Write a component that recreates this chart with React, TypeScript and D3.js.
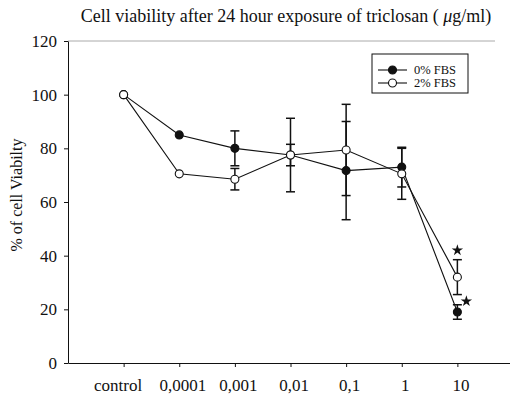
import { useRef, useEffect } from 'react';
import * as d3 from 'd3';

const categories = ['control', '0,0001', '0,001', '0,01', '0,1', '1', '10'];
const fbs0 = [100, 85, 80, 77.5, 71.7, 73, 19];
const fbs0Err = [0, 0, 6.5, 4, 18.3, 7.4, 2.7];
const fbs2 = [100, 70.5, 68.5, 77.5, 79.4, 70.5, 32];
const fbs2Err = [0, 0, 4, 13.7, 17, 9.5, 6.5];
const yTicks = [0, 20, 40, 60, 80, 100, 120];
// significance stars: category, value, horizontal nudge
const stars = [
  { cat: '10', value: 42, dx: 0 },
  { cat: '10', value: 23, dx: 9 },
];

const width = 510;
const height = 394;
const font = '"Liberation Serif", "Times New Roman", serif';

export default function App() {
  const svgRef = useRef<SVGSVGElement>(null);

  useEffect(() => {
    const svg = d3.select(svgRef.current);
    svg.selectAll('*').remove();

    const margin = { top: 41, left: 68, bottom: 31 };

    const x = d3.scalePoint<string>()
      .domain(categories)
      .range([margin.left, 513])
      .padding(1);

    const y = d3.scaleLinear()
      .domain([0, 120])
      .range([height - margin.bottom, margin.top]);

    // title
    const title = svg.append('text')
      .attr('x', 286)
      .attr('y', 22)
      .attr('text-anchor', 'middle')
      .attr('font-family', font)
      .attr('font-size', 18)
      .attr('fill', '#111');
    title.append('tspan').text('Cell viability after 24 hour exposure of triclosan ( ');
    title.append('tspan').attr('font-style', 'italic').text('μ');
    title.append('tspan').text('g/ml)');

    // faint top frame
    svg.append('line')
      .attr('x1', margin.left).attr('x2', 495)
      .attr('y1', y(120)).attr('y2', y(120))
      .attr('stroke', '#aaa')
      .attr('stroke-width', 1);

    // y axis
    const yAxis = svg.append('g')
      .attr('transform', `translate(${margin.left},0)`)
      .call(d3.axisLeft(y).tickValues(yTicks).tickSize(4).tickSizeOuter(0).tickPadding(7));
    yAxis.selectAll('text')
      .attr('font-family', font)
      .attr('font-size', 17)
      .attr('fill', '#111');
    yAxis.selectAll('line, path').attr('stroke', '#111');

    // x axis
    const xAxis = svg.append('g')
      .attr('transform', `translate(0,${y(0)})`)
      .call(d3.axisBottom(x).tickSize(4).tickSizeOuter(0).tickPadding(12));
    xAxis.selectAll('text')
      .attr('font-family', font)
      .attr('font-size', 17)
      .attr('fill', '#111')
      .attr('dx', (d: any) => (d === 'control' ? -6 : 3));
    xAxis.selectAll('line, path').attr('stroke', '#111');

    // y label
    svg.append('text')
      .attr('transform', `translate(22,${195}) rotate(-90)`)
      .attr('text-anchor', 'middle')
      .attr('font-family', font)
      .attr('font-size', 16)
      .attr('fill', '#111')
      .text('% of cell Viabilty');

    const series = [
      { values: fbs0, errs: fbs0Err, fill: '#111' },
      { values: fbs2, errs: fbs2Err, fill: '#fff' },
    ];

    const line = d3.line<number>()
      .x((_, i) => x(categories[i])!)
      .y(d => y(d));

    series.forEach(s => {
      svg.append('path')
        .datum(s.values)
        .attr('d', line)
        .attr('fill', 'none')
        .attr('stroke', '#111')
        .attr('stroke-width', 1.1);
    });

    // error bars
    const cap = 4.5;
    series.forEach(s => {
      const g = svg.append('g').attr('stroke', '#111').attr('stroke-width', 1.5);
      s.values.forEach((v, i) => {
        const e = s.errs[i];
        if (!e) return;
        const cx = x(categories[i])!;
        g.append('line').attr('x1', cx).attr('x2', cx).attr('y1', y(v - e)).attr('y2', y(v + e));
        g.append('line').attr('x1', cx - cap).attr('x2', cx + cap).attr('y1', y(v + e)).attr('y2', y(v + e));
        g.append('line').attr('x1', cx - cap).attr('x2', cx + cap).attr('y1', y(v - e)).attr('y2', y(v - e));
      });
    });

    // markers
    series.forEach(s => {
      svg.append('g')
        .selectAll('circle')
        .data(s.values)
        .join('circle')
        .attr('cx', (_, i) => x(categories[i])!)
        .attr('cy', d => y(d))
        .attr('r', 4)
        .attr('fill', s.fill)
        .attr('stroke', '#111')
        .attr('stroke-width', 1.1);
    });

    // stars
    svg.append('g')
      .selectAll('path')
      .data(stars)
      .join('path')
      .attr('transform', d => `translate(${x(d.cat)! + d.dx},${y(d.value)})`)
      .attr('d', d3.symbol(d3.symbolStar, 40)())
      .attr('fill', '#111');

    // legend
    const lg = svg.append('g').attr('transform', 'translate(372,54)');
    lg.append('rect')
      .attr('width', 96).attr('height', 39)
      .attr('fill', '#fff')
      .attr('stroke', '#111')
      .attr('stroke-width', 1);
    series.forEach((s, i) => {
      const ly = 16 + i * 13;
      lg.append('line')
        .attr('x1', 6).attr('x2', 35)
        .attr('y1', ly).attr('y2', ly)
        .attr('stroke', '#111').attr('stroke-width', 1.1);
      lg.append('circle')
        .attr('cx', 20.5).attr('cy', ly).attr('r', 4)
        .attr('fill', s.fill).attr('stroke', '#111').attr('stroke-width', 1.1);
      lg.append('text')
        .attr('x', 42).attr('y', ly + 4)
        .attr('font-family', font)
        .attr('font-size', 12.5)
        .attr('fill', '#111')
        .text(i === 0 ? '0% FBS' : '2% FBS');
    });
  }, []);

  return (
    <svg
      ref={svgRef}
      width={width}
      height={height}
      style={{ position: 'absolute', left: 0, top: 0, background: '#fff' }}
    />
  );
}
